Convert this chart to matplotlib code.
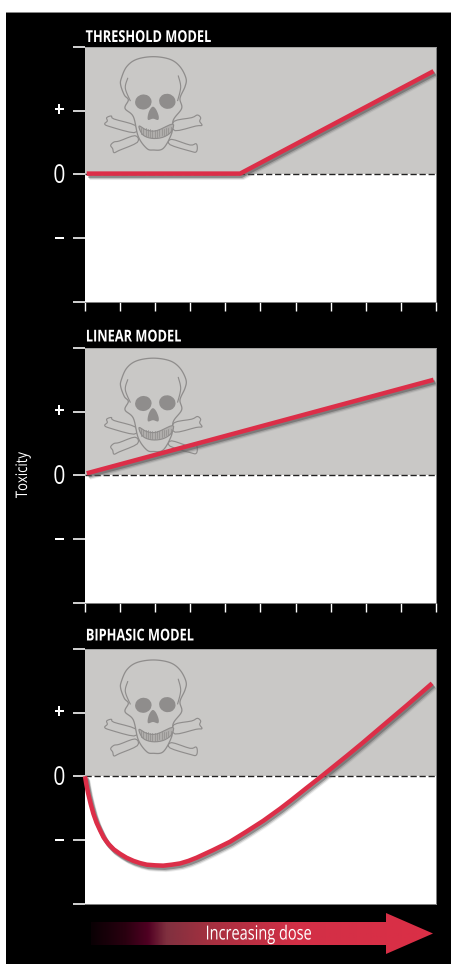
import numpy as np
import matplotlib
matplotlib.use("Agg")
import matplotlib.pyplot as plt
from matplotlib.patches import Polygon, Ellipse, Rectangle
from matplotlib.colors import LinearSegmentedColormap
from matplotlib.transforms import Affine2D
from matplotlib.textpath import TextPath
from matplotlib.font_manager import FontProperties
import matplotlib.patheffects as pe

W, H = 452, 964
plt.rcParams["font.family"] = ["Open Sans", "DejaVu Sans"]

# ---- data
panel_titles = ["THRESHOLD MODEL", "LINEAR MODEL", "BIPHASIC MODEL"]
y_ticks = [-2, -1, 0, 1, 2]
y_labels = ["", "\u2013", "0", "+", ""]
x_ticks = list(range(11))
threshold_x = [0.05, 4.42, 9.93]
threshold_y = [0.01, 0.01, 1.62]
linear_x = [0.05, 9.93]
linear_y = [0.03, 1.50]
biphasic_x = [0.0, 0.04, 0.09, 0.16, 0.24, 0.33, 0.43, 0.53, 0.66, 0.82, 1.0, 1.18, 1.38, 1.57, 1.76, 2.0, 2.23, 2.47, 2.71, 2.95,
              3.18, 3.65, 4.13, 4.6, 5.08, 5.56, 5.89, 6.3, 6.74, 7.46, 7.9, 8.40, 9.17, 9.89]
biphasic_y = [0.0, -0.13, -0.27, -0.43, -0.59, -0.73, -0.85, -0.96, -1.06, -1.15, -1.22, -1.28, -1.33, -1.365, -1.39, -1.40,
              -1.405, -1.39, -1.37, -1.33, -1.28, -1.16, -1.03, -0.87, -0.70, -0.51, -0.37, -0.19, 0.0, 0.32, 0.52, 0.755, 1.115, 1.46]
series = [(threshold_x, threshold_y), (linear_x, linear_y), (biphasic_x, biphasic_y)]
show_xticks = [True, True, False]
arrow_label = "Increasing dose"
y_title = "Toxicity"

# ---- styles
RED = "#dc2e48"
GREY = "#c9c8c6"
SK = "#8f8d8c"
px = 72 / 100  # points per pixel at dpi 100
tops = [47, 348, 649]
title_gap = [9.0, 10.5, 12.5]
skull_dy = [3, 3.5, 4.3]
PH = 254.5
L, R = 85, 436


class Squeeze(pe.AbstractPathEffect):
    """Condense real text horizontally (or vertically for rotated text) about its own extents."""

    def __init__(self, factor=1.0, anchor="left", axis="x", dy=0.0):
        super().__init__()
        self.factor, self.anchor, self.axis, self.dy = factor, anchor, axis, dy

    def draw_path(self, renderer, gc, tpath, affine, rgbFace=None):
        p = affine.transform_path(tpath)
        e = p.get_extents()
        f = self.factor
        if self.axis == "x":
            a = e.x0 if self.anchor == "left" else 0.5 * (e.x0 + e.x1)
            t = Affine2D().translate(-a, 0).scale(f, 1).translate(a, self.dy)
        else:
            a = 0.5 * (e.y0 + e.y1)
            t = Affine2D().translate(0, -a).scale(1, f).translate(0, a)
        renderer.draw_path(gc, p, t, rgbFace)


def width_px(s, size, weight="normal"):
    tp = TextPath((0, 0), s, size=size, prop=FontProperties(family="Open Sans", weight=weight))
    return tp.get_extents().width * 100 / 72


fig = plt.figure(figsize=(W / 100, H / 100), dpi=100, facecolor="white")
bg = fig.add_axes([0, 0, 1, 1], zorder=0)
bg.set_xlim(0, W); bg.set_ylim(H, 0); bg.axis("off")
bg.add_patch(Rectangle((6, 12), W - 6, H - 12, fc="black", ec="none"))
bg.plot([6, W], [11.6, 11.6], color="#8c8c8c", lw=0.7)
PIX = Affine2D().scale(1, -1).translate(0, H)  # picture pixels to display


def smooth(pts, closed=True, n=8):
    p = np.array(pts, float)
    p = np.vstack([p[-1], p, p[0], p[1]]) if closed else np.vstack([p[0], p, p[-1]])
    out = []
    for i in range(1, len(p) - 2):
        a, b, c, d = p[i - 1], p[i], p[i + 1], p[i + 2]
        for t in np.linspace(0, 1, n, endpoint=False):
            out.append(0.5 * (2 * b + (c - a) * t + (2 * a - 5 * b + 4 * c - d) * t**2 + (3 * b - a - 3 * c + d) * t**3))
    return np.array(out)


def draw_skull(ax, ox, oy):
    """Decorative skull; shapes given in 3x-zoom coordinates of the reference."""
    T = lambda q: np.array(q, float) / 3 + [ox, oy]
    lw = 1.15 * px
    bones = [
        [(135, 226), (72, 207), (64, 198), (50, 203), (52, 213), (44, 222), (60, 230), (132, 248)],
        [(252, 214), (305, 203), (322, 195), (332, 203), (329, 214), (336, 226), (318, 228), (255, 242)],
        [(135, 257), (88, 273), (72, 276), (62, 286), (68, 296), (72, 308), (88, 301), (142, 277)],
        [(245, 268), (300, 285), (318, 281), (322, 294), (318, 306), (303, 304), (240, 284)],
    ]
    for b in bones:
        ax.add_patch(Polygon(T(smooth(b, n=4)), closed=True, fc=GREY, ec=SK, lw=lw, zorder=3, transform=PIX))
    skull = [(190, 20), (140, 28), (110, 50), (94, 85), (92, 105), (103, 135), (115, 150), (105, 175), (130, 200),
             (145, 260), (170, 295), (190, 300), (220, 295), (245, 250), (250, 210), (275, 175), (270, 145),
             (285, 110), (288, 85), (270, 50), (240, 28)]
    ax.add_patch(Polygon(T(smooth(skull)), closed=True, fc=GREY, ec=SK, lw=lw * 1.1, zorder=3.1, transform=PIX))
    for line in ([(113, 85), (106, 115), (122, 155)], [(265, 78), (272, 112), (262, 155)]):
        q = T(smooth(line, closed=False))
        ax.plot(q[:, 0], q[:, 1], color=SK, lw=lw, zorder=3.2, transform=PIX)
    ax.add_patch(Ellipse(T((160, 156)), 16.5, 15, angle=-10, fc=SK, ec="none", zorder=3.2, transform=PIX))
    ax.add_patch(Ellipse(T((232, 154)), 16.5, 15, angle=15, fc=SK, ec="none", zorder=3.2, transform=PIX))
    nose = [(188, 170), (178, 182), (173, 200), (175, 210), (189, 206), (204, 210), (206, 198), (198, 178)]
    ax.add_patch(Polygon(T(smooth(nose, n=4)), closed=True, fc=SK, ec="none", zorder=3.2, transform=PIX))
    jaw = [(147, 228), (170, 240), (200, 242), (248, 222), (243, 246), (218, 262), (185, 265), (158, 254)]
    ax.add_patch(Polygon(T(smooth(jaw, n=4)), closed=True, fc="#b0aeac", ec=SK, lw=lw, zorder=3.3, transform=PIX))
    for i in np.linspace(153, 242, 14):
        q = T([(i, 232 + 8 * (1 - abs(i - 195) / 50)), (i, 264 - abs(i - 190) * 0.32)])
        ax.plot(q[:, 0], q[:, 1], color=SK, lw=0.5, zorder=3.4, transform=PIX)


title_size = 11.8
title_sx = 125 / width_px(panel_titles[0], title_size, "bold")

for k, top in enumerate(tops):
    ax = fig.add_axes([L / W, 1 - (top + PH) / H, (R - L) / W, PH / H], facecolor="white", zorder=1)
    ax.set_xlim(0, 10); ax.set_ylim(-2, 2)
    ax.axhspan(0, 2, color=GREY, lw=0, zorder=1)
    ax.axhline(0, color="#222222", lw=1.0, dashes=(4.5, 2), zorder=2)
    for name, s in ax.spines.items():
        s.set_visible(name in ("top", "right", "bottom"))
        s.set_color("#9a9a9a"); s.set_linewidth(0.6)
    ax.set_yticks(y_ticks, y_labels)
    ax.tick_params(axis="y", length=12 * px, width=1.6 * px, color="white", labelcolor="white", pad=9.8)
    for lab, v in zip(ax.get_yticklabels(), y_ticks):
        lab.set_ha("center")
        if v == 0:
            lab.set_fontsize(18.5)
            lab.set_path_effects([Squeeze(0.82, "center", dy=1.0)])
        else:
            lab.set_fontsize(14.5)
            lab.set_fontweight("bold")
            lab.set_path_effects([Squeeze(1.0, "center", dy=2.0)])
    if show_xticks[k]:
        ax.set_xticks(x_ticks, [""] * len(x_ticks))
        ax.tick_params(axis="x", length=9 * px, width=1.4 * px, color="white", direction="out")
    else:
        ax.set_xticks([])
    draw_skull(ax, 90, top + skull_dy[k])
    xs, ys = series[k]
    line, = ax.plot(xs, ys, color=RED, lw=4.5 * px, solid_capstyle="butt", solid_joinstyle="round", zorder=5, clip_on=False)
    line.set_path_effects([
        pe.SimpleLineShadow(offset=(2.2, -3.0), shadow_color="#777777", alpha=0.15),
        pe.SimpleLineShadow(offset=(1.7, -2.3), shadow_color="#666666", alpha=0.3),
        pe.SimpleLineShadow(offset=(1.1, -1.5), shadow_color="#555555", alpha=0.5),
        pe.Normal()])
    fig.text((L + 0.5) / W, 1 - (top - title_gap[k]) / H, panel_titles[k], color="white", fontsize=title_size,
             fontweight="bold", va="center", ha="left", path_effects=[Squeeze(title_sx, "left")])

fig.text(23 / W, 1 - 475 / H, y_title, color="white", rotation=90, fontsize=11.5, ha="center", va="center",
         path_effects=[Squeeze(46 / width_px(y_title, 11.5), "center", "y")])

# ---- dose arrow
cmap = LinearSegmentedColormap.from_list("dose", [
    (0.00, "#0a0004"), (0.10, "#2a0010"), (0.165, "#4f0022"), (0.22, "#80303f"),
    (0.36, "#a83040"), (0.60, "#d22f46"), (1.00, "#db2f47")])
arr = fig.add_axes([0, 0, 1, 1], facecolor="none", zorder=2)
im = arr.imshow(np.linspace(0, 1, 256)[None, :], extent=(91, 433, 955, 912), cmap=cmap, aspect="auto", zorder=2)
arr.set_xlim(0, W); arr.set_ylim(H, 0); arr.axis("off")
head = Polygon([(91, 922), (386, 922), (386, 913), (433, 933.5), (386, 954), (386, 945), (91, 945)],
               closed=True, fc="none", ec="none")
arr.add_patch(head)
im.set_clip_path(head)
arr.text(259, 934.5, arrow_label, color="white", fontsize=14, ha="center", va="center", zorder=3,
         path_effects=[Squeeze(104 / width_px(arrow_label, 14), "center")])

fig.savefig("out.png", dpi=100, facecolor="white")
